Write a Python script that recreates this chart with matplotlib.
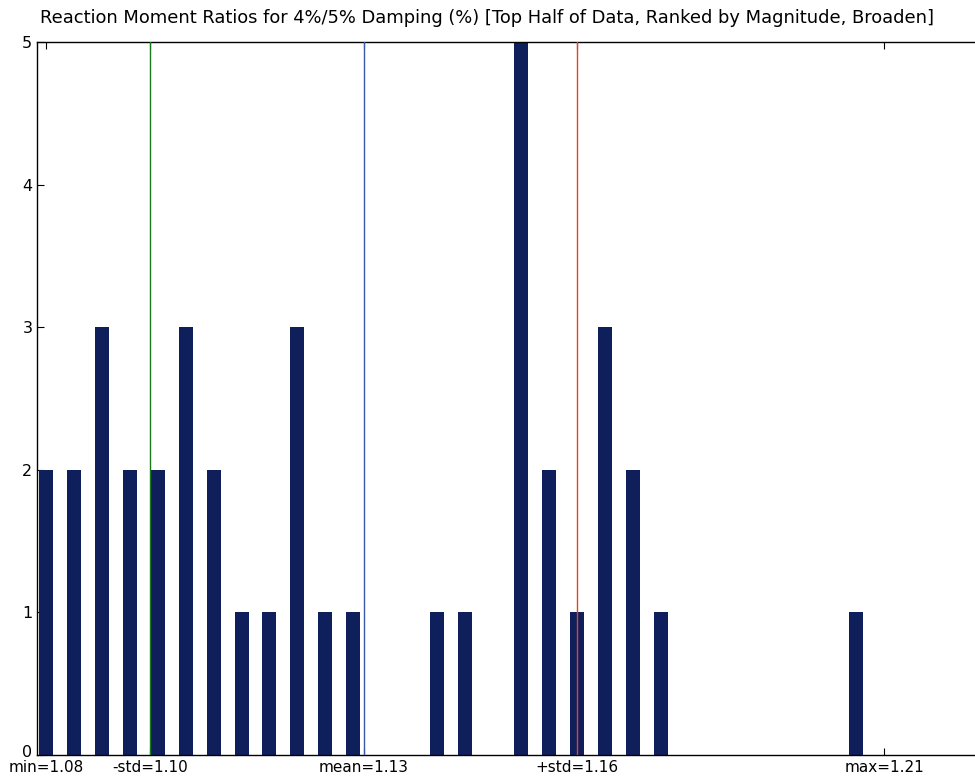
import matplotlib
matplotlib.use("Agg")
import matplotlib.pyplot as plt
import numpy as np

# Histogram data (30 bins between min and max)
counts = [2, 2, 3, 2, 2, 3, 2, 1, 1, 3, 1, 1, 0, 0, 1, 1, 0, 5, 2, 1, 3, 2, 1, 0, 0, 0, 0, 0, 0, 1]
data_min = 1.0820
data_max = 1.2115
data_mean = 1.1311
data_std = 0.0330
tick_labels = ["min=1.08", "-std=1.10", "mean=1.13", "+std=1.16", "max=1.21"]
title = "Reaction Moment Ratios for 4%/5% Damping (%) [Top Half of Data, Ranked by Magnitude, Broaden]"

nbins = len(counts)
edges = np.linspace(data_min, data_max, nbins + 1)
binw = edges[1] - edges[0]

fig = plt.figure(figsize=(9.75, 7.76), dpi=100)
ax = fig.add_axes([36.5 / 975, 21 / 776, (980 - 36.5) / 975, 713 / 776])

ax.bar(edges[:-1], counts, width=binw * 0.5, align="center", color="#0f1f5c", linewidth=0, zorder=2)

ax.axvline(data_mean - data_std, color="#1a7a1a", linewidth=1.0, zorder=3)
ax.axvline(data_mean, color="#3a5aa8", linewidth=1.0, zorder=3)
ax.axvline(data_mean + data_std, color="#e8401c", linewidth=1.0, zorder=3)

px_per_unit = (884 - 46) / (data_max - data_min)
ax.set_xlim(data_min - 9.5 / px_per_unit, data_min + (980 - 46) / px_per_unit)
ax.set_ylim(0, 5)

ax.set_xticks([data_min, data_mean - data_std, data_mean, data_mean + data_std, data_max])
ax.set_xticklabels(tick_labels, fontsize=11)
ax.set_yticks(range(0, 6))
ax.set_yticklabels([str(v) for v in range(0, 6)], fontsize=11.5)
ax.tick_params(direction="in", top=True, right=False, length=5, width=0.8)
ax.tick_params(axis="x", pad=3.5)
ax.tick_params(axis="y", pad=3)

for sp in ax.spines.values():
    sp.set_linewidth(1.0)
ax.spines["right"].set_visible(False)

# nudge the "0" label slightly upward as in the reference
from matplotlib.transforms import ScaledTranslation
ylabels = ax.get_yticklabels()
ylabels[0].set_transform(ylabels[0].get_transform() + ScaledTranslation(0, 4 / 100, fig.dpi_scale_trans))

fig.text(0.5, 1 - 18 / 776, title, ha="center", va="center", fontsize=12.9)

fig.savefig("out.png", dpi=100)
